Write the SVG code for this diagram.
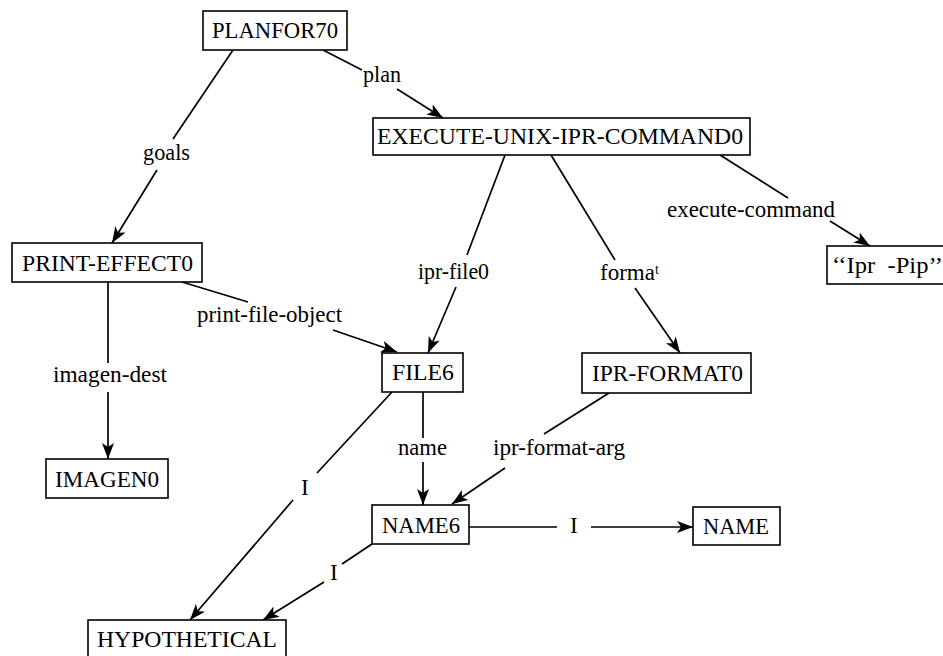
<svg xmlns="http://www.w3.org/2000/svg" width="943" height="656" viewBox="0 0 943 656">
<style>
  .box { fill: #fff; stroke: #000; stroke-width: 1.6; }
  .nt { font-family: "Liberation Serif", "Times New Roman", serif; font-size: 23px; fill: #000; }
  .lt { font-family: "Liberation Serif", "Times New Roman", serif; font-size: 23px; fill: #000; }
  .edge { fill: none; stroke: #000; stroke-width: 1.7; }
</style>
<defs>
  <marker id="arr" markerUnits="userSpaceOnUse" markerWidth="18" markerHeight="14" refX="16" refY="6" orient="auto">
    <path d="M0,0 L16,6 L0,12 L4,6 z" fill="#000"/>
  </marker>
</defs>
<rect width="943" height="656" fill="#fff"/>

<g id="connectors">
  <!-- goals -->
  <line class="edge" x1="233" y1="50" x2="173" y2="139"/>
  <line class="edge" x1="157" y1="170" x2="112" y2="243" marker-end="url(#arr)"/>
  <text class="lt" x="143" y="160" textLength="47" lengthAdjust="spacingAndGlyphs">goals</text>
  <!-- plan -->
  <line class="edge" x1="323" y1="50" x2="362" y2="70"/>
  <line class="edge" x1="397" y1="89" x2="443" y2="118" marker-end="url(#arr)"/>
  <text class="lt" x="363" y="82" textLength="38" lengthAdjust="spacingAndGlyphs">plan</text>
  <!-- execute-command -->
  <line class="edge" x1="720" y1="155" x2="788" y2="198"/>
  <line class="edge" x1="830" y1="221" x2="870" y2="246" marker-end="url(#arr)"/>
  <text class="lt" x="667" y="217" textLength="168" lengthAdjust="spacingAndGlyphs">execute-command</text>
  <!-- ipr-file0 -->
  <line class="edge" x1="505" y1="155" x2="467" y2="255"/>
  <line class="edge" x1="456" y1="287" x2="428" y2="353" marker-end="url(#arr)"/>
  <text class="lt" x="418" y="279" textLength="71" lengthAdjust="spacingAndGlyphs">ipr-file0</text>
  <!-- format -->
  <line class="edge" x1="551" y1="155" x2="615" y2="260"/>
  <line class="edge" x1="635" y1="288" x2="680" y2="353" marker-end="url(#arr)"/>
  <text class="lt" x="600" y="280">forma<tspan font-size="14" dy="-6">t</tspan></text>
  <!-- print-file-object -->
  <line class="edge" x1="182" y1="282" x2="248" y2="302"/>
  <line class="edge" x1="333" y1="330" x2="397" y2="352" marker-end="url(#arr)"/>
  <text class="lt" x="197" y="322" textLength="145" lengthAdjust="spacingAndGlyphs">print-file-object</text>
  <!-- imagen-dest -->
  <line class="edge" x1="108" y1="282" x2="108" y2="363"/>
  <line class="edge" x1="108" y1="392" x2="108" y2="459" marker-end="url(#arr)"/>
  <text class="lt" x="53" y="382" textLength="114" lengthAdjust="spacingAndGlyphs">imagen-dest</text>
  <!-- name -->
  <line class="edge" x1="423" y1="392" x2="423" y2="438"/>
  <line class="edge" x1="423" y1="462" x2="423" y2="505" marker-end="url(#arr)"/>
  <text class="lt" x="398" y="455" textLength="49" lengthAdjust="spacingAndGlyphs">name</text>
  <!-- ipr-format-arg -->
  <line class="edge" x1="609" y1="393" x2="544" y2="434"/>
  <line class="edge" x1="505" y1="468" x2="452" y2="504" marker-end="url(#arr)"/>
  <text class="lt" x="493" y="455" textLength="132" lengthAdjust="spacingAndGlyphs">ipr-format-arg</text>
  <!-- I NAME6 -> NAME -->
  <line class="edge" x1="469" y1="527" x2="557" y2="527"/>
  <line class="edge" x1="591" y1="527" x2="693" y2="527" marker-end="url(#arr)"/>
  <text class="lt" x="570" y="533">I</text>
  <!-- I FILE6 -> HYPOTHETICAL -->
  <line class="edge" x1="392" y1="392" x2="317" y2="473"/>
  <line class="edge" x1="293" y1="500" x2="190" y2="620" marker-end="url(#arr)"/>
  <text class="lt" x="301" y="495">I</text>
  <!-- I NAME6 -> HYPOTHETICAL -->
  <line class="edge" x1="372" y1="544" x2="342" y2="564"/>
  <line class="edge" x1="324" y1="582" x2="263" y2="620" marker-end="url(#arr)"/>
  <text class="lt" x="330" y="580">I</text>
</g>

<g id="PLANFOR70">
  <rect class="box" x="203" y="11" width="144" height="39"/>
  <text class="nt" x="212" y="38" textLength="126" lengthAdjust="spacingAndGlyphs">PLANFOR70</text>
</g>
<g id="EXECUTE-UNIX-IPR-COMMAND0">
  <rect class="box" x="373" y="118" width="377" height="37"/>
  <text class="nt" x="377" y="144" textLength="366" lengthAdjust="spacingAndGlyphs">EXECUTE-UNIX-IPR-COMMAND0</text>
</g>
<g id="PRINT-EFFECT0">
  <rect class="box" x="12" y="243" width="190" height="39"/>
  <text class="nt" x="22" y="271" textLength="171" lengthAdjust="spacingAndGlyphs">PRINT-EFFECT0</text>
</g>
<g id="IPR-PIP">
  <rect class="box" x="827" y="246" width="122" height="38"/>
  <text class="nt" x="832" y="273" xml:space="preserve" textLength="111" lengthAdjust="spacingAndGlyphs">‘‘Ipr  -Pip’’</text>
</g>
<g id="FILE6">
  <rect class="box" x="382" y="353" width="81" height="39"/>
  <text class="nt" x="392" y="380" textLength="62" lengthAdjust="spacingAndGlyphs">FILE6</text>
</g>
<g id="IPR-FORMAT0">
  <rect class="box" x="582" y="353" width="169" height="40"/>
  <text class="nt" x="592" y="381" textLength="151" lengthAdjust="spacingAndGlyphs">IPR-FORMAT0</text>
</g>
<g id="IMAGEN0">
  <rect class="box" x="46" y="459" width="122" height="39"/>
  <text class="nt" x="55" y="487" textLength="104" lengthAdjust="spacingAndGlyphs">IMAGEN0</text>
</g>
<g id="NAME6">
  <rect class="box" x="372" y="505" width="97" height="39"/>
  <text class="nt" x="382" y="533" textLength="78" lengthAdjust="spacingAndGlyphs">NAME6</text>
</g>
<g id="NAME">
  <rect class="box" x="693" y="507" width="87" height="38"/>
  <text class="nt" x="703" y="534" textLength="66" lengthAdjust="spacingAndGlyphs">NAME</text>
</g>
<g id="HYPOTHETICAL">
  <rect class="box" x="88" y="620" width="198" height="42"/>
  <text class="nt" x="97" y="647" textLength="180" lengthAdjust="spacingAndGlyphs">HYPOTHETICAL</text>
</g>
</svg>
